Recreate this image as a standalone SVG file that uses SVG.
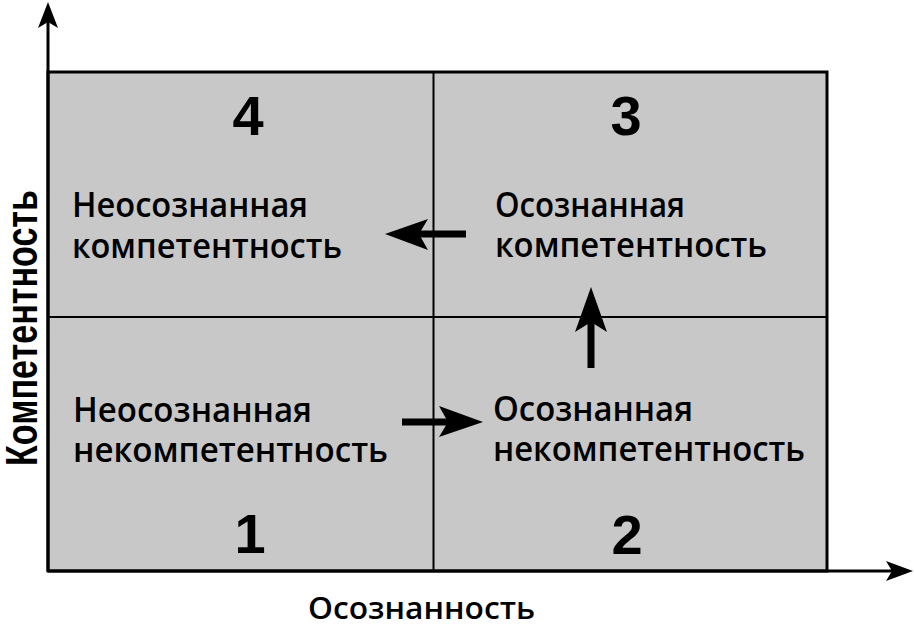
<svg xmlns="http://www.w3.org/2000/svg" width="914" height="625" viewBox="0 0 914 625">
<style>
.lbl{font-family:"Open Sans","Noto Sans",sans-serif;font-weight:600;font-size:34px;fill:#000}
.num{font-family:"Liberation Sans",Arial,sans-serif;font-weight:bold;font-size:56px;fill:#000;text-anchor:middle}
.axis{font-family:"Liberation Sans",Arial,sans-serif;font-weight:bold;fill:#000}
.thin{stroke:#000;stroke-width:2;fill:none}
.ax{stroke:#000;stroke-width:3;fill:none}
</style>
<rect id="field" x="48" y="72" width="779" height="499" fill="#c8c8c8" stroke="#000" stroke-width="3"/>
<g id="grid">
<line class="thin" x1="433.5" y1="72" x2="433.5" y2="571"/>
<line class="thin" x1="48" y1="317" x2="827" y2="317"/>
</g>
<g id="connectors">
<line class="ax" x1="48" y1="571" x2="48" y2="20"/>
<path d="M48,2 L58,28 L48,22 L38,28 Z" fill="#000"/>
<line class="ax" x1="48" y1="571" x2="892" y2="571"/>
<path d="M913,571 L886,581 L892,571 L886,561 Z" fill="#000"/>
<rect x="418" y="230.5" width="48" height="7" fill="#000"/>
<path d="M385,234 L428,219 L419,234 L428,250 Z" fill="#000"/>
<rect x="587.5" y="320" width="7" height="48" fill="#000"/>
<path d="M591,287 L607,332 L591,322 L575,332 Z" fill="#000"/>
<rect x="402" y="418.5" width="46" height="7" fill="#000"/>
<path d="M483,422 L439,406 L448,422 L439,437 Z" fill="#000"/>
</g>
<g id="q4">
<text class="num" x="248" y="135">4</text>
<text class="lbl" x="72" y="217" textLength="236" lengthAdjust="spacingAndGlyphs">Неосознанная</text>
<text class="lbl" x="72" y="258" textLength="270" lengthAdjust="spacingAndGlyphs">компетентность</text>
</g>
<g id="q3">
<text class="num" x="626" y="135">3</text>
<text class="lbl" x="495" y="217" textLength="190" lengthAdjust="spacingAndGlyphs">Осознанная</text>
<text class="lbl" x="495" y="257" textLength="272" lengthAdjust="spacingAndGlyphs">компетентность</text>
</g>
<g id="q1">
<text class="num" x="250" y="553">1</text>
<text class="lbl" x="73" y="422" textLength="239" lengthAdjust="spacingAndGlyphs">Неосознанная</text>
<text class="lbl" x="73" y="462" textLength="315" lengthAdjust="spacingAndGlyphs">некомпетентность</text>
</g>
<g id="q2">
<text class="num" x="627" y="554">2</text>
<text class="lbl" x="493" y="421" textLength="200" lengthAdjust="spacingAndGlyphs">Осознанная</text>
<text class="lbl" x="493" y="461" textLength="312" lengthAdjust="spacingAndGlyphs">некомпетентность</text>
</g>
<g id="axis-labels">
<text class="lbl" x="308" y="619" style="font-size:31px" textLength="227" lengthAdjust="spacingAndGlyphs">Осознанность</text>
<text class="axis" transform="translate(37,466) rotate(-90)" style="font-size:44px" textLength="276" lengthAdjust="spacingAndGlyphs">Компетентность</text>
</g>
</svg>
